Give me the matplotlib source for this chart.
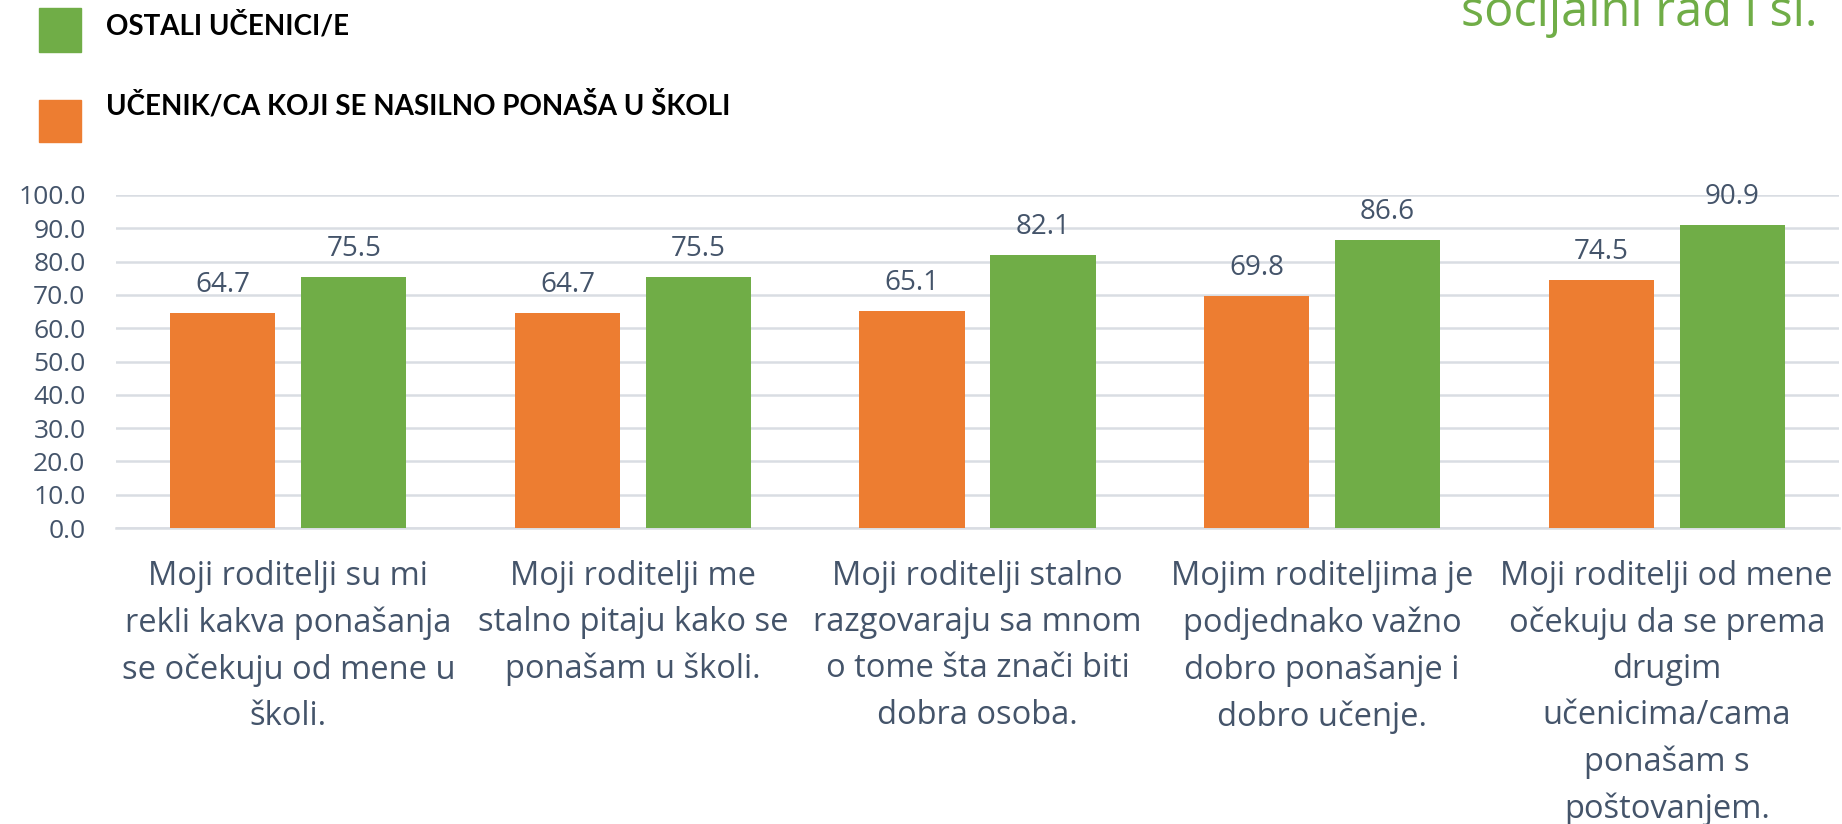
import numpy as np
import matplotlib.pyplot as plt
from matplotlib.patches import Rectangle

# data
categories = [
    "Moji roditelji su mi\nrekli kakva ponašanja\nse očekuju od mene u\nškoli.",
    "Moji roditelji me\nstalno pitaju kako se\nponašam u školi.",
    "Moji roditelji stalno\nrazgovaraju sa mnom\no tome šta znači biti\ndobra osoba.",
    "Mojim roditeljima je\npodjednako važno\ndobro ponašanje i\ndobro učenje.",
    "Moji roditelji od mene\nočekuju da se prema\ndrugim\nučenicima/cama\nponašam s\npoštovanjem.",
]
nasilni = [64.7, 64.7, 65.1, 69.8, 74.5]
ostali = [75.5, 75.5, 82.1, 86.6, 90.9]
series_names = ["OSTALI UČENICI/E", "UČENIK/CA KOJI SE NASILNO PONAŠA U ŠKOLI"]
yticks = np.arange(0, 101, 10)

ORANGE = "#ED7D31"
GREEN = "#70AD47"
TXT = "#44546A"
GRID = "#D9DDE3"

W, H = 1842, 824
fig = plt.figure(figsize=(W/100, H/100), dpi=100)
ax = fig.add_axes([116/W, (H-528)/H, (1839-116)/W, 333/H])

x = np.arange(len(categories))
bw = 0.305
off = 0.19
b1 = ax.bar(x - off, nasilni, bw, color=ORANGE, zorder=3)
b2 = ax.bar(x + off, ostali, bw, color=GREEN, zorder=3)

for bars, vals in ((b1, nasilni), (b2, ostali)):
    for r, v in zip(bars, vals):
        ax.annotate(f"{v:.1f}", (r.get_x() + r.get_width()/2, v), xytext=(0, 10),
                    textcoords="offset points", ha="center", va="bottom",
                    fontsize=20, color=TXT, family="Open Sans")

ax.set_xlim(-0.5, len(categories) - 0.5)
ax.set_ylim(0, 100)
ax.set_yticks(yticks)
ax.set_yticklabels([f"{t:.1f}" for t in yticks], fontsize=19, color=TXT, family="Open Sans")
ax.yaxis.grid(True, color=GRID, linewidth=1.8, zorder=0)
ax.tick_params(axis="y", length=0, pad=22)
ax.tick_params(axis="x", length=0)
ax.set_xticks([])
for s in ("top", "right", "left"):
    ax.spines[s].set_visible(False)
ax.spines["bottom"].set_color(GRID)
ax.spines["bottom"].set_linewidth(1.8)

for xi, lab in zip(x, categories):
    ax.annotate(lab, (xi, 0), xytext=(0, -23), textcoords="offset points",
                ha="center", va="top", fontsize=23.5, color=TXT, family="Open Sans",
                linespacing=1.53, annotation_clip=False)

# legend boxes at top left
fig.patches.append(Rectangle((39/W, (H-52)/H), 42/W, 44/H, color=GREEN, transform=fig.transFigure))
fig.patches.append(Rectangle((39/W, (H-142)/H), 42/W, 42/H, color=ORANGE, transform=fig.transFigure))
fig.text(106/W, (H-26)/H, series_names[0], fontsize=20, fontweight="bold", family="Lato",
         va="center", ha="left", color="black")
fig.text(106/W, (H-105)/H, series_names[1], fontsize=20, fontweight="bold", family="Lato",
         va="center", ha="left", color="black")

# cut-off title fragment top right
fig.text(1817/W, (H-26)/H, "socijalni rad i sl.", fontsize=35, color=GREEN, family="Open Sans",
         ha="right", va="baseline")

fig.savefig("out.png", dpi=100)
